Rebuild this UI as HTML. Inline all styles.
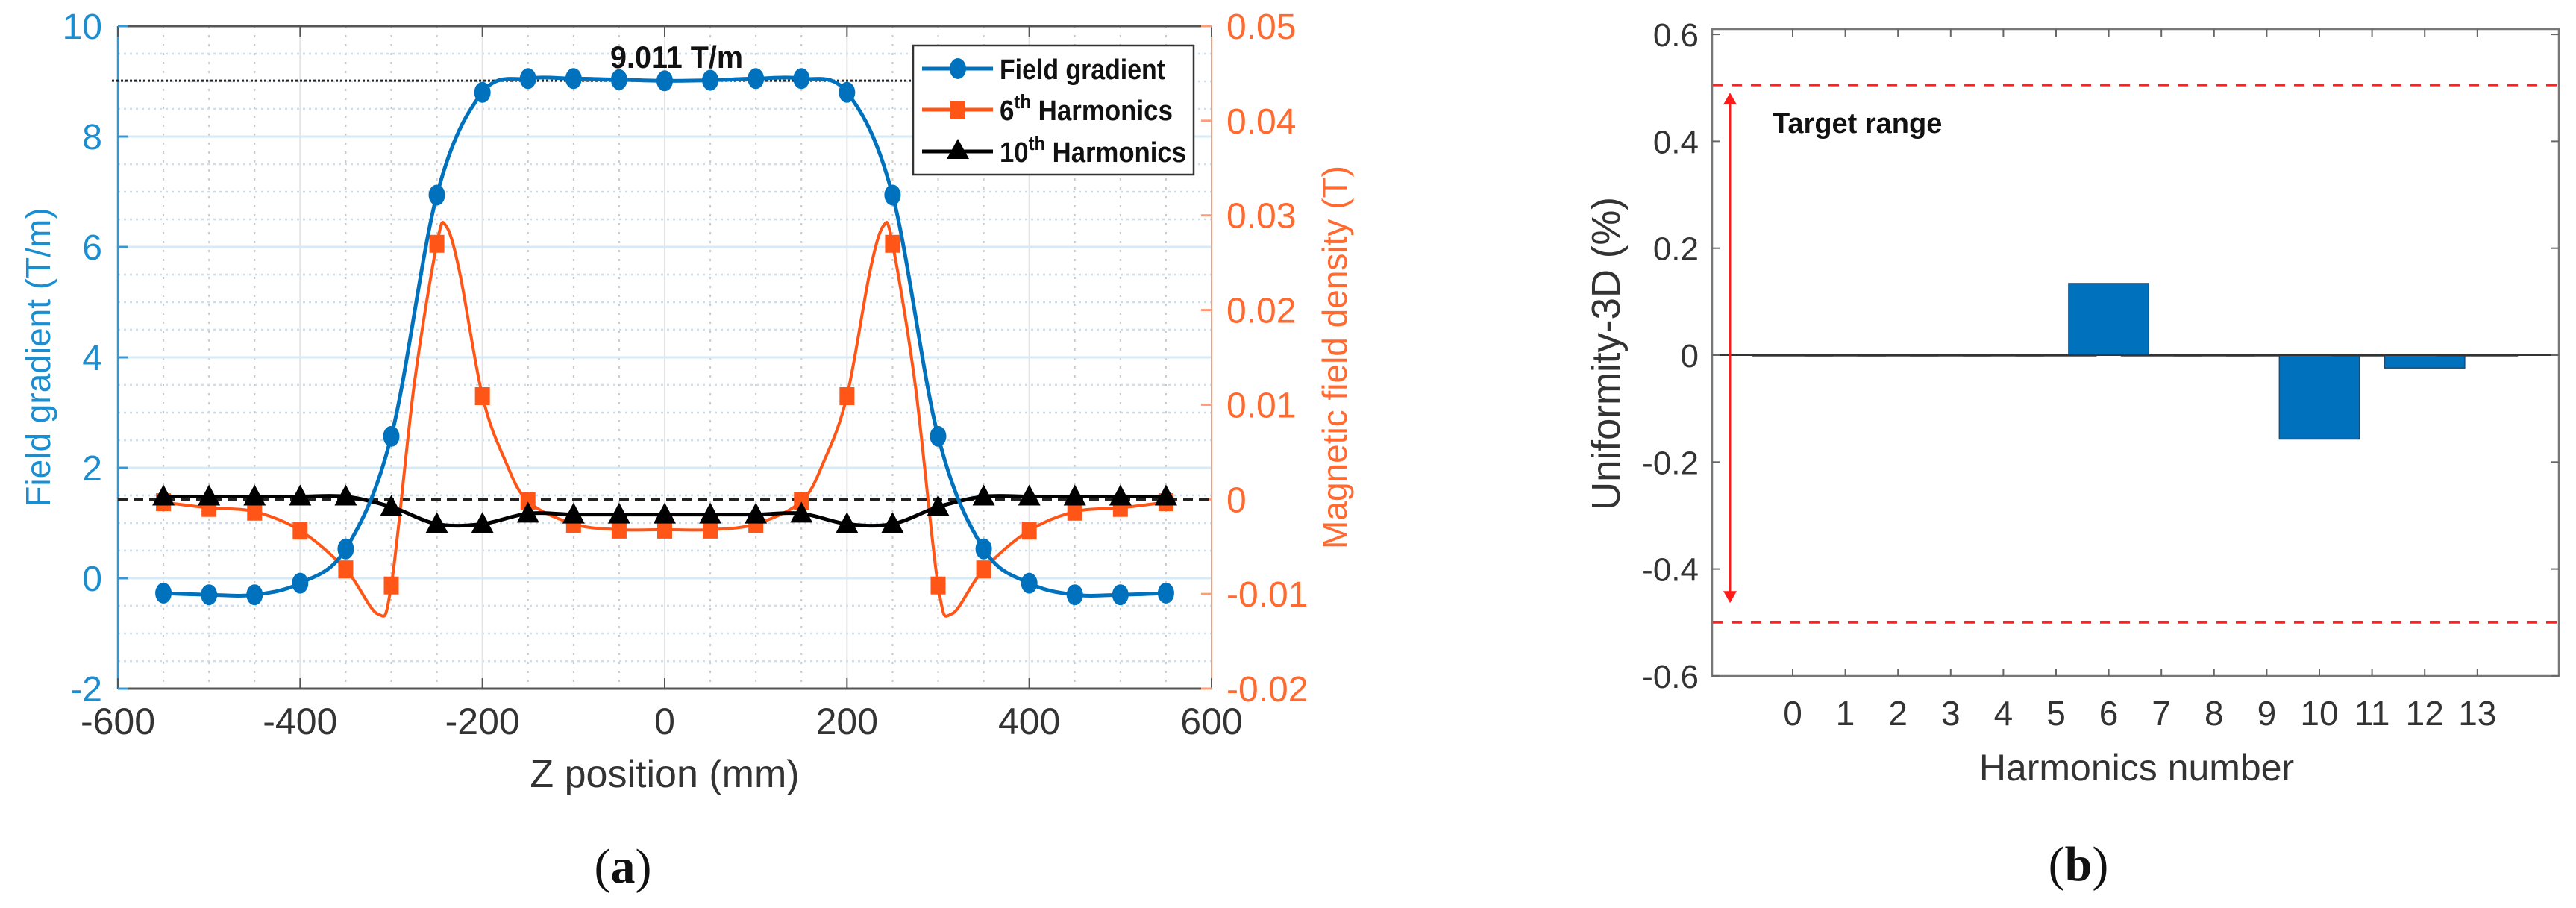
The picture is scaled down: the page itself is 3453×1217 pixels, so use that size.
<!DOCTYPE html>
<html><head><meta charset="utf-8"><title>Field gradient and harmonics</title>
<style>
html,body{margin:0;padding:0;background:#fff;}
svg{display:block;}
text{font-family:"Liberation Sans",sans-serif;}
.nar{font-family:"Liberation Sans Narrow","Liberation Sans",sans-serif;}
.ser{font-family:"Liberation Serif",serif;}
</style></head>
<body>
<svg id="fig" width="3453" height="1217" viewBox="0 0 3453 1217" xmlns="http://www.w3.org/2000/svg">
<g id="chartA"></g>
<g id="chartB"></g>
</svg>
<script>
// ---------- Chart (a) data ----------
const zPos = [-550,-500,-450,-400,-350,-300,-250,-200,-150,-100,-50,0,50,100,150,200,250,300,350,400,450,500,550];
const gradVals = [-0.27,-0.3,-0.3,-0.09,0.53,2.57,6.94,8.8,9.05,9.05,9.03,9.01,9.02,9.05,9.05,8.8,6.94,2.57,0.53,-0.09,-0.3,-0.3,-0.27];
const h6Vals = [-0.0003,-0.0009,-0.0013,-0.0033,-0.0074,-0.0091,0.027,0.0109,-0.0002,-0.0026,-0.0032,-0.0032,-0.0032,-0.0026,-0.0002,0.0109,0.027,-0.0091,-0.0074,-0.0033,-0.0013,-0.0009,-0.0003];
const h10Vals = [0.0003,0.0003,0.0003,0.0003,0.0003,-0.0008,-0.0026,-0.0026,-0.0015,-0.0016,-0.0016,-0.0016,-0.0016,-0.0016,-0.0015,-0.0026,-0.0026,-0.0008,0.0003,0.0003,0.0003,0.0003,0.0003];
const h6CurveZ = [-550,-500,-450,-400,-350,-315,-300,-275,-250,-240,-225,-200,-175,-150,-100,-50,0,50,100,150,175,200,225,240,250,275,300,315,350,400,450,500,550];
const h6CurveV = [-0.0003,-0.0009,-0.0013,-0.0033,-0.0074,-0.0121,-0.0091,0.012,0.027,0.0289,0.024,0.0109,0.0041,-0.0002,-0.0026,-0.0032,-0.0032,-0.0032,-0.0026,-0.0002,0.0041,0.0109,0.024,0.0289,0.027,0.012,-0.0091,-0.0121,-0.0074,-0.0033,-0.0013,-0.0009,-0.0003];
const xTicksA = [-600,-400,-200,0,200,400,600];
const yTicksLeft = [-2,0,2,4,6,8,10];
const yTicksRight = [-0.02,-0.01,0,0.01,0.02,0.03,0.04,0.05];
const yTicksRightLabels = ["-0.02","-0.01","0","0.01","0.02","0.03","0.04","0.05"];
const refGradient = 9.011;
// ---------- Chart (b) data ----------
const harmCats = [0,1,2,3,4,5,6,7,8,9,10,11,12,13];
const harmVals = [0,0,0,0,0,0,0.134,0,0,0,-0.157,0,-0.024,0];
const yTicksB = [-0.6,-0.4,-0.2,0,0.2,0.4,0.6];
const yTicksBLabels = ["-0.6","-0.4","-0.2","0","0.2","0.4","0.6"];
const targetHi = 0.505, targetLo = -0.5;

const NS="http://www.w3.org/2000/svg";
function mk(parent, tag, attrs, txt){const e=document.createElementNS(NS,tag);for(const k in attrs)e.setAttribute(k,attrs[k]);if(txt!==undefined)e.textContent=txt;parent.appendChild(e);return e;}
function crPath(pts){let d="M"+pts[0][0].toFixed(1)+","+pts[0][1].toFixed(1);
 for(let i=0;i<pts.length-1;i++){const p0=pts[i-1]||pts[i],p1=pts[i],p2=pts[i+1],p3=pts[i+2]||p2;
  const c1=[p1[0]+(p2[0]-p0[0])/6,p1[1]+(p2[1]-p0[1])/6],c2=[p2[0]-(p3[0]-p1[0])/6,p2[1]-(p3[1]-p1[1])/6];
  d+=" C"+c1[0].toFixed(1)+","+c1[1].toFixed(1)+" "+c2[0].toFixed(1)+","+c2[1].toFixed(1)+" "+p2[0].toFixed(1)+","+p2[1].toFixed(1);}
 return d;}

// ===== Chart A =====
(function(){
const g=document.getElementById('chartA');
const L=158,R=1624,T=35,B=923;
const xS=z=>L+(z+600)/1200*(R-L);
const yL=v=>T+(10-v)/12*(B-T);
const yR=v=>T+(0.05-v)/0.07*(B-T);
const BLUE="#0072BD",ORANGE="#FF5516",BLK="#000";
for(let z=-550;z<=550;z+=50){ if(z%200===0) continue;
 const l=mk(g,'line',{x1:xS(z),x2:xS(z),y1:T,y2:B,stroke:'#c9c9c9','stroke-width':2,'stroke-dasharray':'3,9'});
 
 }
for(let v=-1.5;v<10;v+=0.5){ if(Math.abs(v%2)<1e-9) continue;
 const l=mk(g,'line',{x1:L,x2:R,y1:yL(v),y2:yL(v),stroke:'#cfdde8','stroke-width':2.5,'stroke-dasharray':'3,5'});
 
 }
xTicksA.forEach(z=>{ if(z===-600||z===600) return;
 const l=mk(g,'line',{x1:xS(z),x2:xS(z),y1:T,y2:B,stroke:'#e3e3e3','stroke-width':2});
 
 });
yTicksLeft.forEach(v=>{ if(v===-2||v===10) return;
 const l=mk(g,'line',{x1:L,x2:R,y1:yL(v),y2:yL(v),stroke:'#d6ebf7','stroke-width':3});
 
 });
const ax=mk(g,'g',{});


mk(ax,'line',{x1:L,x2:R,y1:T,y2:T,stroke:'#555','stroke-width':3});
mk(ax,'line',{x1:L,x2:R,y1:B,y2:B,stroke:'#555','stroke-width':3});
mk(ax,'line',{x1:L,x2:L,y1:T,y2:B,stroke:'#3399d6','stroke-width':2.5});
mk(ax,'line',{x1:R,x2:R,y1:T,y2:B,stroke:'#ff9a78','stroke-width':2});
xTicksA.forEach(z=>{mk(ax,'line',{x1:xS(z),x2:xS(z),y1:B,y2:B-14,stroke:'#555','stroke-width':2});
 mk(ax,'line',{x1:xS(z),x2:xS(z),y1:T,y2:T+14,stroke:'#555','stroke-width':2});
 const t=mk(g,'text',{x:xS(z),y:984,'font-size':50,'text-anchor':'middle',fill:'#333',class:'nar'},String(z));
 
 });
yTicksLeft.forEach(v=>{mk(ax,'line',{x1:L,x2:L+14,y1:yL(v),y2:yL(v),stroke:'#3399d6','stroke-width':3});
 const t=mk(g,'text',{x:137,y:yL(v)+17,'font-size':48,'text-anchor':'end',fill:'#1a8ed0',class:'nar'},String(v));
 
 });
yTicksRight.forEach((v,i)=>{mk(ax,'line',{x1:R-14,x2:R,y1:yR(v),y2:yR(v),stroke:'#ff9a78','stroke-width':3});
 const t=mk(g,'text',{x:1644,y:yR(v)+17,'font-size':48,'text-anchor':'start',fill:'#ff6a30',class:'nar'},yTicksRightLabels[i]);
 
 });
let t=mk(g,'text',{x:891,y:1055,'font-size':52,'text-anchor':'middle',fill:'#333',class:'nar'},'Z position (mm)');


t=mk(g,'text',{x:0,y:0,'font-size':46,'text-anchor':'middle',fill:'#1a8ed0',transform:'translate(67,479) rotate(-90)'},'Field gradient (T/m)');


t=mk(g,'text',{x:0,y:0,'font-size':46,'text-anchor':'middle',fill:'#ff6a30',transform:'translate(1805,479) rotate(-90)'},'Magnetic field density (T)');


let l=mk(g,'line',{x1:150,x2:1222,y1:yL(refGradient),y2:yL(refGradient),stroke:'#222','stroke-width':3,'stroke-dasharray':'3,3'});


t=mk(g,'text',{x:818,y:91,'font-size':42,'font-weight':'bold',fill:'#111',class:'nar',textLength:178,lengthAdjust:'spacingAndGlyphs'},'9.011 T/m');


l=mk(g,'line',{x1:L,x2:R,y1:yR(0),y2:yR(0),stroke:'#222','stroke-width':3.5,'stroke-dasharray':'13,8'});


const s6=mk(g,'g',{});


mk(s6,'path',{d:crPath(h6CurveZ.map((z,i)=>[xS(z),yR(h6CurveV[i])])),fill:'none',stroke:ORANGE,'stroke-width':4});
zPos.forEach((z,i)=>{const r=mk(s6,'rect',{x:xS(z)-10,y:yR(h6Vals[i])-12,width:20,height:24,fill:ORANGE});
 
 });
const s10=mk(g,'g',{});


mk(s10,'path',{d:crPath(zPos.map((z,i)=>[xS(z),yR(h10Vals[i])])),fill:'none',stroke:BLK,'stroke-width':5});
zPos.forEach((z,i)=>{const x=xS(z),y=yR(h10Vals[i]);
 const p=mk(s10,'path',{d:`M${x-15},${y+12} L${x},${y-16} L${x+15},${y+12} Z`,fill:BLK});
 
 });
const sg=mk(g,'g',{});


mk(sg,'path',{d:crPath(zPos.map((z,i)=>[xS(z),yL(gradVals[i])])),fill:'none',stroke:BLUE,'stroke-width':5});
zPos.forEach((z,i)=>{const c=mk(sg,'ellipse',{cx:xS(z),cy:yL(gradVals[i]),rx:11,ry:14,fill:BLUE});
 
 });
const lg=mk(g,'g',{});


mk(lg,'rect',{x:1224,y:61,width:376,height:173,fill:'#fff',stroke:'#333','stroke-width':2.5});
const ents=[['Field gradient',BLUE,'c',92,222],['6','#FF5516','s',147,232],['10',BLK,'t',203,250]];
ents.forEach(e=>{const row=mk(lg,'g',{});
 
 
 mk(row,'line',{x1:1236,x2:1331,y1:e[3],y2:e[3],stroke:e[1],'stroke-width':5});
 if(e[2]==='c') mk(row,'ellipse',{cx:1284,cy:e[3],rx:11,ry:14,fill:e[1]});
 if(e[2]==='s') mk(row,'rect',{x:1274,y:e[3]-12,width:20,height:24,fill:e[1]});
 if(e[2]==='t') mk(row,'path',{d:`M1269,${e[3]+10} L1284,${e[3]-17} L1299,${e[3]+10} Z`,fill:e[1]});
 const tx=mk(row,'text',{x:1340,y:e[3]+14,'font-size':38,'font-weight':'bold',fill:'#111',class:'nar',textLength:e[4],lengthAdjust:'spacingAndGlyphs'});
 if(e[2]==='c'){tx.textContent='Field gradient';}
 else{tx.textContent=e[0];mk(tx,'tspan',{dy:-16,'font-size':26},'th');mk(tx,'tspan',{dy:16},' Harmonics');}
});
t=mk(g,'text',{x:835,y:1183,'font-size':66,'text-anchor':'middle',fill:'#111',class:'ser'});


t.textContent='(';mk(t,'tspan',{'font-weight':'bold'},'a');mk(t,'tspan',{},')');
})();

// ===== Chart B =====
(function(){
const g=document.getElementById('chartB');
const L=2295,R=3430,T=39,B=906;
const x0=2403,dx=70.6;
const xS=c=>x0+c*dx;
const yS=v=>476-v/0.2*143.3;
harmCats.forEach((c,i)=>{const v=harmVals[i];const y1=yS(Math.max(v,0)),y2=yS(Math.min(v,0));
 const r=mk(g,'rect',{x:xS(c)-0.76*dx,y:y1,width:1.52*dx,height:Math.max(y2-y1,1),fill:'#0072BD',stroke:'#1a4a7a','stroke-width':1.5});
 
 });
let l=mk(g,'line',{x1:L,x2:R,y1:yS(0),y2:yS(0),stroke:'#333','stroke-width':2});


[targetHi,targetLo].forEach(v=>{const d=mk(g,'line',{x1:L,x2:R,y1:yS(v),y2:yS(v),stroke:'#ff2020','stroke-width':3,'stroke-dasharray':'14,12'});
 
 });
const ar=mk(g,'g',{});


const ax0=2319,ya=yS(targetHi)+10,yb=yS(targetLo)-26;
mk(ar,'line',{x1:ax0,x2:ax0,y1:ya+14,y2:yb-14,stroke:'#ff1a1a','stroke-width':3});
mk(ar,'path',{d:`M${ax0-9},${ya+16} L${ax0},${ya} L${ax0+9},${ya+16} Z`,fill:'#ff1a1a'});
mk(ar,'path',{d:`M${ax0-9},${yb-16} L${ax0},${yb} L${ax0+9},${yb-16} Z`,fill:'#ff1a1a'});
let t=mk(g,'text',{x:2376,y:178,'font-size':38,'font-weight':'bold',fill:'#111'},'Target range');


const ax=mk(g,'g',{});


mk(ax,'rect',{x:L,y:T,width:R-L,height:B-T,fill:'none',stroke:'#777','stroke-width':2.5});
harmCats.forEach(c=>{mk(ax,'line',{x1:xS(c),x2:xS(c),y1:B,y2:B-10,stroke:'#666','stroke-width':2});
 mk(ax,'line',{x1:xS(c),x2:xS(c),y1:T,y2:T+10,stroke:'#666','stroke-width':2});
 const tt=mk(g,'text',{x:xS(c),y:972,'font-size':46,'text-anchor':'middle',fill:'#333'},String(c));
 
 });
yTicksB.forEach((v,i)=>{mk(ax,'line',{x1:L,x2:L+10,y1:yS(v),y2:yS(v),stroke:'#666','stroke-width':2});
 mk(ax,'line',{x1:R-10,x2:R,y1:yS(v),y2:yS(v),stroke:'#666','stroke-width':2});
 const tt=mk(g,'text',{x:2277,y:yS(v)+16,'font-size':44,'text-anchor':'end',fill:'#333'},yTicksBLabels[i]);
 
 });
t=mk(g,'text',{x:2864,y:1046,'font-size':50,'text-anchor':'middle',fill:'#333'},'Harmonics number');


t=mk(g,'text',{x:0,y:0,'font-size':54,'text-anchor':'middle',fill:'#333',class:'nar',textLength:420,lengthAdjust:'spacingAndGlyphs',transform:'translate(2171,474) rotate(-90)'},'Uniformity-3D (%)');


t=mk(g,'text',{x:2786,y:1180,'font-size':66,'text-anchor':'middle',fill:'#111',class:'ser'});


t.textContent='(';mk(t,'tspan',{'font-weight':'bold'},'b');mk(t,'tspan',{},')');
})();
</script>
</body></html>
